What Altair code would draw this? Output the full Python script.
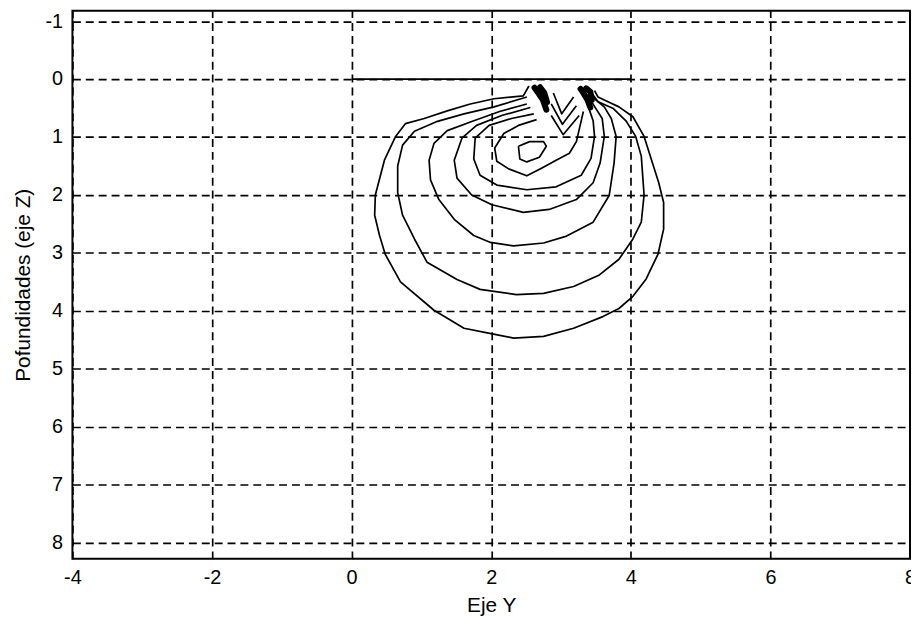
import altair as alt
import pandas as pd

# ---- contour traces (Eje Y, profundidad Z) ----
A_x = [2.54, 2.46, 2.04, 1.70, 1.37, 1.04, 0.77, 0.63, 0.47, 0.34, 0.33, 0.40, 0.48, 0.70, 1.18, 1.61, 1.98, 2.32, 2.75, 3.18, 3.60, 3.83, 4.03, 4.22, 4.39, 4.47, 4.47, 4.40, 4.19, 4.03, 3.83, 3.65, 3.53, 3.48]
A_z = [0.12, 0.29, 0.34, 0.43, 0.55, 0.68, 0.77, 0.99, 1.40, 2.00, 2.35, 2.70, 3.02, 3.50, 3.99, 4.30, 4.39, 4.47, 4.44, 4.30, 4.10, 3.96, 3.75, 3.45, 3.02, 2.59, 2.13, 1.79, 0.99, 0.65, 0.48, 0.38, 0.31, 0.20]

B_x = [2.51, 2.04, 1.61, 1.23, 0.90, 0.73, 0.66, 0.66, 0.73, 0.90, 1.08, 1.51, 1.84, 2.36, 2.75, 3.18, 3.55, 3.83, 4.03, 4.15, 4.19, 4.15, 4.07, 3.93, 3.75, 3.53, 3.45]
B_z = [0.31, 0.48, 0.60, 0.73, 0.90, 1.14, 1.50, 1.96, 2.35, 2.76, 3.16, 3.46, 3.63, 3.72, 3.70, 3.58, 3.38, 3.11, 2.76, 2.47, 2.00, 1.33, 0.99, 0.72, 0.51, 0.39, 0.26]

C_x = [2.51, 2.12, 1.75, 1.37, 1.18, 1.11, 1.13, 1.25, 1.47, 1.75, 1.99, 2.32, 2.75, 3.08, 3.46, 3.69, 3.76, 3.79, 3.72, 3.62, 3.48, 3.40]
C_z = [0.43, 0.56, 0.72, 0.89, 1.11, 1.40, 1.74, 2.08, 2.42, 2.70, 2.82, 2.88, 2.83, 2.71, 2.47, 2.01, 1.45, 0.99, 0.68, 0.48, 0.34, 0.22]

D_x = [2.56, 2.15, 1.79, 1.58, 1.47, 1.51, 1.72, 2.01, 2.46, 2.83, 3.22, 3.46, 3.56, 3.62, 3.59, 3.50, 3.43]
D_z = [0.49, 0.63, 0.80, 1.02, 1.40, 1.71, 2.00, 2.17, 2.30, 2.25, 2.08, 1.79, 1.45, 0.99, 0.68, 0.51, 0.38]

E_x = [2.61, 2.29, 1.97, 1.77, 1.75, 1.84, 2.08, 2.51, 2.93, 3.29, 3.43, 3.48, 3.46, 3.40]
E_z = [0.60, 0.68, 0.80, 1.02, 1.38, 1.66, 1.83, 1.91, 1.86, 1.66, 1.37, 0.99, 0.72, 0.51]

F_x = [2.65, 2.39, 2.18, 2.05, 2.08, 2.25, 2.51, 2.72, 2.93, 3.12, 3.22, 3.28, 3.32]
F_z = [0.70, 0.80, 0.94, 1.19, 1.42, 1.55, 1.67, 1.54, 1.40, 1.28, 1.08, 0.77, 0.56]

G_x = [2.39, 2.41, 2.51, 2.69, 2.79, 2.75, 2.55, 2.39]
G_z = [1.16, 1.38, 1.43, 1.35, 1.16, 1.08, 1.08, 1.16]

V1_x = [2.89, 3.01, 3.18]
V1_z = [0.24, 0.60, 0.31]
V2_x = [2.86, 3.02, 3.22]
V2_z = [0.43, 0.78, 0.46]
V3_x = [2.86, 3.03, 3.26]
V3_z = [0.63, 0.96, 0.63]

# dense source zones near the surface
S1_x = [2.62, 2.68, 2.74, 2.79]
S1_z = [0.15, 0.25, 0.36, 0.53]
S1b_x = [2.70, 2.76, 2.80]
S1b_z = [0.14, 0.24, 0.40]
S2_x = [3.28, 3.33, 3.38, 3.42]
S2_z = [0.17, 0.26, 0.36, 0.49]
S2b_x = [3.36, 3.42, 3.44]
S2b_z = [0.16, 0.22, 0.36]

# surface line
SURF_x = [0.0, 4.0]
SURF_z = [0.0, 0.0]

X_TICKS = [-4, -2, 0, 2, 4, 6, 8]
Z_TICKS = [-1, 0, 1, 2, 3, 4, 5, 6, 7, 8]

def build(traces):
    rows = []
    for name, xs, zs in traces:
        for i, (a, b) in enumerate(zip(xs, zs)):
            rows.append({"id": name, "ord": i, "x": a, "z": b})
    return pd.DataFrame(rows)

lines_df = build([
    ("A", A_x, A_z), ("B", B_x, B_z), ("C", C_x, C_z), ("D", D_x, D_z),
    ("E", E_x, E_z), ("F", F_x, F_z), ("G", G_x, G_z),
    ("V1", V1_x, V1_z), ("V2", V2_x, V2_z), ("V3", V3_x, V3_z),
    ("SURF", SURF_x, SURF_z),
])
blob_df = build([("S1", S1_x, S1_z), ("S1b", S1b_x, S1b_z),
                 ("S2", S2_x, S2_z), ("S2b", S2b_x, S2b_z)])

xscale = alt.Scale(domain=[-4, 8], nice=False, zero=False)
zscale = alt.Scale(domain=[-1.18, 8.28], nice=False, zero=False, reverse=True)

xaxis = alt.Axis(values=X_TICKS, labelExpr="'' + datum.value", title="Eje Y", grid=True, ticks=False,
                 domain=False, labelFontSize=20, labelPadding=9, titleFontSize=21, titlePadding=7,
                 labelFlush=False)
zaxis = alt.Axis(values=Z_TICKS, labelExpr="'' + datum.value", title="Pofundidades (eje Z)", grid=True,
                 ticks=False, domain=False, labelFontSize=20, labelPadding=10, titleFontSize=21,
                 titlePadding=12, labelFlush=False)

base_x = alt.X("x:Q", scale=xscale, axis=xaxis)
base_y = alt.Y("z:Q", scale=zscale, axis=zaxis)

lines = alt.Chart(lines_df).mark_line(color="black", strokeWidth=1.7, strokeJoin="round").encode(
    x=base_x, y=base_y, detail="id:N", order="ord:Q"
)
blobs = alt.Chart(blob_df).mark_line(color="black", strokeWidth=6, strokeCap="round").encode(
    x=alt.X("x:Q", scale=xscale), y=alt.Y("z:Q", scale=zscale), detail="id:N", order="ord:Q"
)

chart = alt.layer(lines, blobs).properties(
    width=845, height=553,
    autosize=alt.AutoSizeParams(type="none"),
    padding={"left": 65, "top": 0, "right": 1, "bottom": 57},
    background="white",
).configure_view(
    stroke="black", strokeWidth=2
).configure_axis(
    labelFont="Liberation Sans", titleFont="Liberation Sans",
    labelColor="black", titleColor="black", titleFontWeight="normal",
    gridColor="black", gridOpacity=1, gridWidth=1.7, gridDash=[8, 5],
)

chart.save("out.html", embed_options={"renderer": "svg", "actions": False})
